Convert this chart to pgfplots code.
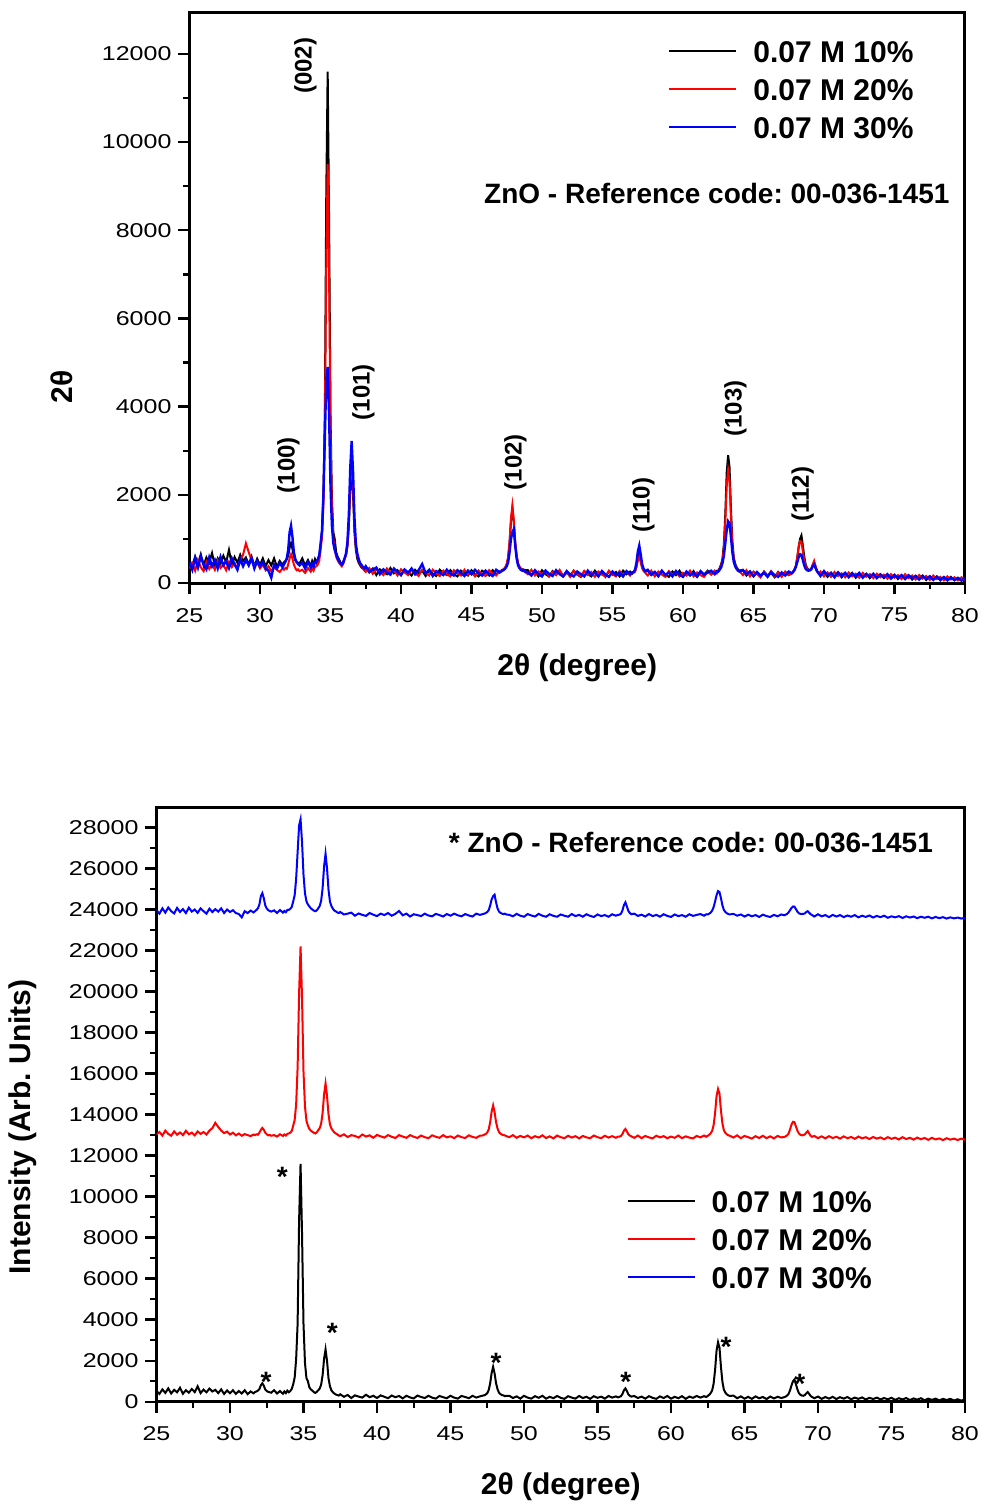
\documentclass[border=0pt]{standalone}
\usepackage{fontspec}
\setmainfont{Liberation Sans}
\newfontfamily\tickfont{Liberation Sans}[FakeStretch=1.25]
\usepackage{pgfplots}
\usepackage{pgfplotstable}
\pgfplotsset{compat=1.18}
\frenchspacing

% 2theta, black (10%), red (20%), blue (30%)
\pgfplotstableread{
x k r b
25.0 520 330 470
25.2 380 450 300
25.4 600 280 560
25.6 430 520 350
25.8 650 360 600
26.0 400 270 420
26.2 580 480 310
26.4 460 320 580
26.6 680 430 380
26.8 390 300 520
27.0 560 510 330
27.2 440 340 590
27.4 620 420 400
27.6 470 290 500
27.8 750 480 340
28.0 420 360 560
28.2 590 450 420
28.4 460 330 300
28.6 640 520 540
28.8 500 640 380
29.0 580 900 520
29.2 420 700 400
29.4 600 520 560
29.6 380 400 330
29.8 550 470 500
30.0 410 330 380
30.2 560 420 470
30.4 380 290 330
30.6 520 380 280
30.8 400 270 120
31.0 560 350 420
31.2 370 300 330
31.4 500 250 450
31.6 410 330 360
31.7 470 300 420
31.8 500 340 480
31.9 540 320 560
32.0 620 420 750
32.1 800 560 1150
32.2 900 650 1300
32.3 780 560 1050
32.4 600 420 700
32.5 520 340 550
32.6 480 290 470
32.7 460 310 430
32.8 440 270 400
33.0 560 300 460
33.2 400 230 330
33.4 520 340 480
33.6 390 260 350
33.7 500 330 430
33.8 420 280 370
33.9 540 360 480
34.0 460 380 480
34.1 520 420 540
34.2 620 500 620
34.3 850 760 900
34.4 1180 1040 1200
34.5 2080 1800 2000
34.6 3800 3600 3300
34.7 8800 7200 4600
34.8 11600 9500 4900
34.9 8200 7000 3800
35.0 3800 3400 2200
35.1 1900 1700 1300
35.2 1150 1000 900
35.3 1000 760 750
35.4 700 600 650
35.5 600 520 560
35.6 540 460 500
35.7 470 420 450
35.8 430 380 420
35.9 480 430 460
36.0 555 540 560
36.1 640 640 670
36.2 830 850 920
36.3 1290 1380 1540
36.4 2090 2290 2600
36.5 2550 2820 3220
36.6 2000 2220 2520
36.7 1150 1330 1480
36.8 750 820 890
36.9 550 620 670
37.0 460 520 540
37.1 400 430 450
37.2 350 380 410
37.3 330 340 360
37.4 300 280 330
37.5 360 250 380
37.75 240 340 260
38.0 330 210 300
38.25 180 300 350
38.5 310 260 200
38.75 250 180 310
39.0 200 330 240
39.25 340 230 190
39.5 220 290 330
39.75 290 170 250
40.0 180 310 180
40.25 310 240 300
40.5 240 180 230
40.75 170 300 330
41.0 300 220 200
41.25 220 160 290
41.5 280 300 430
41.75 160 230 220
42.0 290 170 300
42.25 210 300 160
42.5 160 220 270
42.75 300 160 230
43.0 230 280 180
43.25 180 200 300
43.5 290 150 210
43.75 200 290 170
44.0 150 220 290
44.25 280 170 230
44.5 220 300 160
44.75 170 190 280
45.0 290 240 200
45.25 200 150 300
45.5 150 280 220
45.75 280 200 170
46.0 230 160 280
46.25 170 290 210
46.5 290 210 160
46.75 200 170 300
47.0 260 270 240
47.1 280 270 260
47.2 300 290 280
47.3 310 320 300
47.4 350 360 330
47.5 420 430 380
47.6 570 580 470
47.7 900 930 700
47.8 1410 1450 1000
47.9 1700 1750 1150
48.0 1380 1420 1220
48.1 900 930 850
48.2 610 630 560
48.3 440 450 400
48.4 370 370 340
48.5 320 330 300
48.6 310 300 280
48.7 270 290 300
48.8 290 250 260
49.0 290 200 240
49.25 180 300 170
49.5 260 170 290
49.75 150 260 200
50.0 290 190 150
50.25 200 280 280
50.5 150 150 210
50.75 270 250 160
51.0 190 180 290
51.25 290 290 200
51.5 150 160 150
51.75 240 240 270
52.0 170 140 190
52.25 280 280 150
52.5 190 200 260
52.75 140 150 200
53.0 270 270 150
53.25 200 180 280
53.5 150 250 180
53.75 280 140 240
54.0 180 260 150
54.25 240 190 270
54.5 140 150 190
54.75 270 280 140
55.0 190 200 260
55.25 250 150 180
55.5 150 270 230
55.75 280 180 150
56.0 200 250 270
56.25 260 170 200
56.4 210 230 240
56.5 240 230 250
56.6 270 260 300
56.7 380 360 460
56.8 560 520 720
56.9 650 600 850
57.0 520 480 650
57.1 360 340 430
57.2 290 280 330
57.3 250 240 270
57.5 280 170 300
57.75 180 280 190
58.0 250 150 250
58.25 150 260 160
58.5 270 190 280
58.75 190 140 180
59.0 140 270 240
59.25 260 190 150
59.5 180 250 270
59.75 280 150 190
60.0 150 230 140
60.25 240 170 260
60.5 170 280 180
60.75 270 150 230
61.0 140 240 150
61.25 250 180 270
61.5 190 140 190
61.75 280 260 240
62.0 200 190 280
62.25 270 280 200
62.4 230 220 270
62.5 280 270 260
62.6 340 320 300
62.7 420 390 350
62.8 550 510 450
62.9 880 790 620
63.0 1550 1380 900
63.1 2500 2200 1200
63.2 2900 2550 1400
63.3 2630 2320 1350
63.4 1690 1490 1050
63.5 960 860 700
63.6 580 530 480
63.7 440 410 380
63.8 360 340 320
63.9 310 290 280
64.0 280 270 260
64.25 300 180 290
64.5 170 290 200
64.75 260 150 260
65.0 150 260 160
65.25 240 200 250
65.5 140 130 170
65.75 260 250 230
66.0 170 160 140
66.25 230 270 250
66.5 130 150 180
66.75 250 240 140
67.0 160 140 240
67.25 240 260 170
67.5 180 190 260
67.7 220 210 220
67.8 250 240 250
67.9 300 290 290
68.0 380 380 360
68.1 560 580 470
68.2 800 820 580
68.3 1000 950 650
68.4 1080 930 640
68.5 850 720 520
68.6 600 520 400
68.7 420 380 320
68.8 340 320 290
68.9 300 290 280
69.0 290 300 290
69.1 320 330 310
69.2 400 420 380
69.3 470 500 420
69.4 380 380 340
69.5 280 270 270
69.6 230 220 230
69.75 170 260 160
70.0 250 150 270
70.25 140 240 170
70.5 230 140 230
70.75 150 250 130
71.0 240 160 240
71.25 130 220 160
71.5 220 130 230
71.75 150 240 130
72.0 230 150 210
72.25 120 210 150
72.5 200 120 230
72.75 140 230 120
73.0 210 140 200
73.25 110 200 140
73.5 190 110 210
73.75 130 210 110
74.0 200 130 190
74.25 110 190 130
74.5 180 100 200
74.75 120 200 100
75.0 190 120 170
75.25 90 180 120
75.5 170 90 180
75.75 110 200 90
76.0 180 110 170
76.25 80 170 110
76.5 160 80 160
76.75 100 180 80
77.0 170 100 150
77.25 70 160 100
77.5 150 70 150
77.75 90 170 70
78.0 150 90 140
78.25 60 140 80
78.5 140 60 130
78.75 80 150 60
79.0 140 80 120
79.25 60 130 70
79.5 120 60 110
79.75 50 130 60
80.0 110 70 100
}\xrd

\pgfplotsset{
  xrd/.style={
    scale only axis,
    xmin=25, xmax=80, xtick={25,30,...,80},
    minor x tick num=1, minor y tick num=1,
    tick align=outside, xtick pos=bottom, ytick pos=left,
    major tick length=5.5pt, minor tick length=3pt,
    tick style={black, line width=1.2pt},
    axis line style={line width=1.5pt},
    scaled y ticks=false,
    /pgf/number format/assume math mode=true,
    /pgf/number format/set thousands separator={},
    tick label style={font=\tickfont\fontsize{10}{12}\selectfont},
    xticklabel style={yshift=-3.5pt},
    label style={font=\bfseries\fontsize{15}{18}\selectfont},
    legend cell align=left,
    legend image code/.code={\draw[#1, line width=1pt] (0pt,0pt) -- (33.5pt,0pt);},
    legend style={draw=none, fill=none, inner sep=0pt, row sep=8pt,
      font=\bfseries\fontsize{15}{18}\selectfont,
      nodes={inner sep=0pt, text height=11pt, text depth=0pt},
      /tikz/every odd column/.style={column sep=8pt}},
  },
}
\tikzset{
  peak/.style={rotate=90, font=\bfseries\fontsize{12}{14}\selectfont},
  star/.style={font=\bfseries\fontsize{14}{16}\selectfont},
}

\begin{document}
\begin{tikzpicture}
\path[use as bounding box] (0,0) rectangle (492.5pt,-753pt);

% upper panel
\begin{axis}[xrd,
  at={(94.75pt,-291.5pt)}, anchor=south west,
  width=387.75pt, height=285.5pt,
  ymin=0, ymax=12950, ytick={0,2000,...,12000},
  xlabel={2θ (degree)}, ylabel={2θ},
  xlabel style={at={(axis description cs:0.5,-0.149)}, anchor=center},
  ylabel style={at={(axis description cs:-0.1644,0.343)}, anchor=center},
  legend style={at={(0.617,0.951)}, anchor=north west},
]
\addplot[black, line width=1pt] table[x=x, y=k] {\xrd};
\addplot[red, line width=1pt] table[x=x, y=r] {\xrd};
\addplot[blue, line width=1.2pt] table[x=x, y=b] {\xrd};
\legend{0.07 M 10\%, 0.07 M 20\%, 0.07 M 30\%}
\node[font=\bfseries\fontsize{14}{16}\selectfont] at (rel axis cs:0.68,0.683) {ZnO - Reference code: 00-036-1451};
\node[peak] at (axis cs:33.23,11730) {(002)};
\node[peak] at (axis cs:32.02,2670) {(100)};
\node[peak] at (axis cs:37.34,4325) {(101)};
\node[peak] at (axis cs:48.12,2740) {(102)};
\node[peak] at (axis cs:57.2,1766) {(110)};
\node[peak] at (axis cs:63.72,3960) {(103)};
\node[peak] at (axis cs:68.48,2015) {(112)};
\end{axis}

% lower panel, stacked
\begin{axis}[xrd,
  at={(78.25pt,-700.85pt)}, anchor=south west,
  width=404.25pt, height=297.35pt,
  ymin=0, ymax=29000, ytick={0,2000,...,28000},
  xlabel={2θ (degree)}, ylabel={Intensity (Arb. Units)},
  xlabel style={at={(axis description cs:0.5,-0.143)}, anchor=center},
  ylabel style={at={(axis description cs:-0.166,0.462)}, anchor=center},
  legend style={at={(0.581,0.356)}, anchor=north west},
]
\addplot[black, line width=1pt] table[x=x, y=k] {\xrd};
\addplot[red, line width=1pt] table[x=x, y expr=\thisrow{r}+12700] {\xrd};
\addplot[blue, line width=1pt] table[x=x, y expr=\thisrow{b}+23500] {\xrd};
\legend{0.07 M 10\%, 0.07 M 20\%, 0.07 M 30\%}
\node[font=\bfseries\fontsize{14}{16}\selectfont] at (rel axis cs:0.661,0.9395) {* ZnO - Reference code: 00-036-1451};
\node[star] at (axis cs:33.56,10960) {*};
\node[star] at (axis cs:36.96,3360) {*};
\node[star] at (axis cs:32.45,980) {*};
\node[star] at (axis cs:48.1,1900) {*};
\node[star] at (axis cs:56.92,980) {*};
\node[star] at (axis cs:63.74,2680) {*};
\node[star] at (axis cs:68.77,880) {*};
\end{axis}
\end{tikzpicture}
\end{document}
